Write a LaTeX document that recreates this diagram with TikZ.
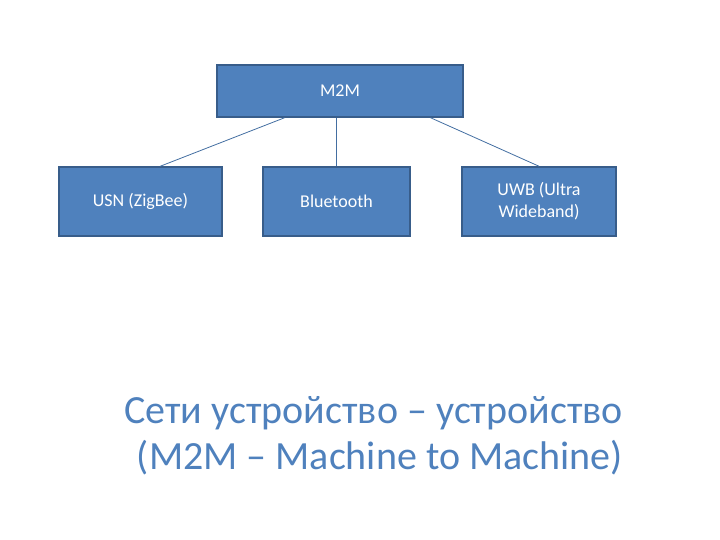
\documentclass[tikz,border=0pt]{standalone}
\usepackage{fontspec}
\setmainfont{Carlito}
\usetikzlibrary{calc}
\definecolor{boxblue}{HTML}{4F81BD}
\definecolor{boxedge}{HTML}{385D8A}
\begin{document}
\begin{tikzpicture}[x=1pt, y=-1pt,
  box/.style={rectangle, draw=boxedge, line width=1.5pt, fill=boxblue, text=white,
    font=\fontsize{18}{22}\selectfont, align=center, inner sep=0pt},
  link/.style={boxblue!85!black, line width=0.8pt},
  caption/.style={boxblue, font=\fontsize{40}{46}\selectfont, align=right, inner sep=0pt}]
  \useasboundingbox (0,0) rectangle (720,540);
  % M2M tree
  \node[box, minimum width=246pt, minimum height=52pt] (m2m) at (340,91) {M2M};
  \node[box, minimum width=163pt, minimum height=69pt] (usn) at (140.5,201.5) {USN (ZigBee)};
  \node[box, minimum width=147pt, minimum height=69pt] (bt) at (336.5,201.5) {Bluetooth};
  \node[box, minimum width=154pt, minimum height=69pt] (uwb) at (539,201.5) {UWB (Ultra\\Wideband)};
  \draw[link] ($(m2m.south west)!0.276!(m2m.south east)$) -- ($(usn.north west)!0.62!(usn.north east)$);
  \draw[link] (bt.north |- m2m.south) -- (bt.north);
  \draw[link] ($(m2m.south west)!0.866!(m2m.south east)$) -- (uwb.north);
  \node[caption, anchor=base east] (title) at (623,469) {Сети устройство – устройство\\(M2M – Machine to Machine)};
\end{tikzpicture}
\end{document}
